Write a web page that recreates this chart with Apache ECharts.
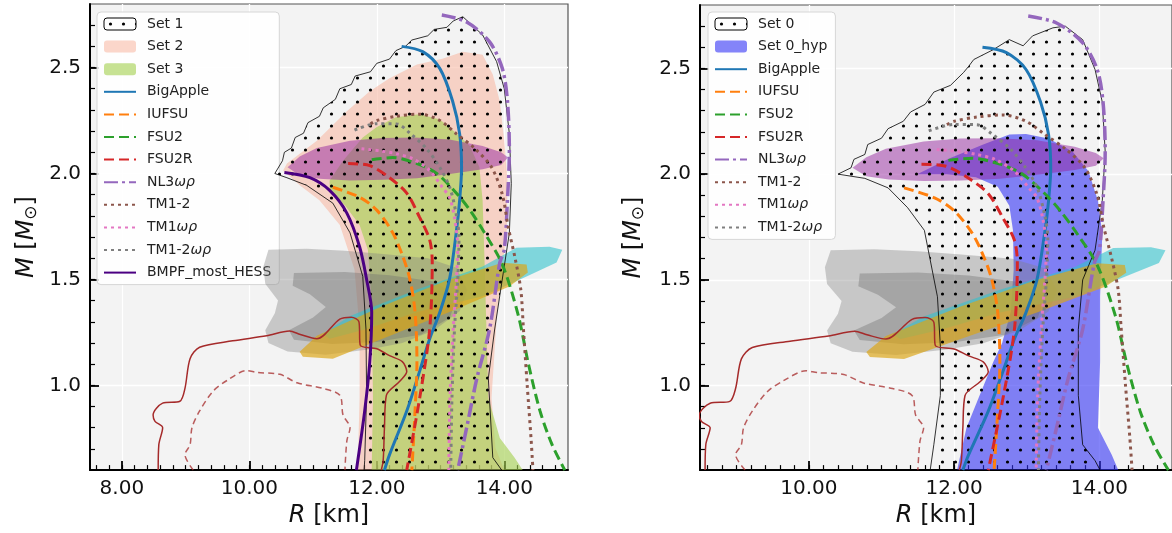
<!DOCTYPE html>
<html>
<head>
<meta charset="utf-8">
<script src="https://cdn.jsdelivr.net/npm/echarts@6/dist/echarts.min.js"></script>
<style>
html, body {margin: 0; padding: 0; background: #fff;}
#chart {width: 1172px; height: 533px;}
</style>
</head>
<body>
<div id="chart"></div>
<script>
// tick labels
var xTicksLeft = [8, 10, 12, 14];
var xTicksRight = [10, 12, 14];
var yTicks = [1.0, 1.5, 2.0, 2.5];

// model M-R curves [R km, M Msun]
var bigApple = [[12.39,2.60],[12.72,2.575],[12.99,2.495],[13.19,2.341],[13.30,2.187],[13.33,2.028],[13.30,1.874],[13.25,1.73],[13.14,1.5],[12.99,1.346],[12.83,1.22],[12.67,1.065],[12.47,0.879],[12.2,0.673],[12.12,0.6]];
var iufsu = [[11.31,1.935],[11.73,1.888],[12.0,1.827],[12.25,1.72],[12.41,1.607],[12.52,1.5],[12.6,1.346],[12.63,1.112],[12.6,0.879],[12.55,0.6]];
var fsu2 = [[11.92,2.065],[12.25,2.075],[12.63,2.047],[12.94,2.0],[13.25,1.907],[13.46,1.827],[13.69,1.72],[13.97,1.57],[14.22,1.33],[14.38,1.1],[14.56,0.88],[14.75,0.72],[14.95,0.6]];
var fsu2r = [[11.55,2.047],[11.89,2.037],[12.2,1.98],[12.47,1.907],[12.67,1.794],[12.83,1.687],[12.87,1.58],[12.83,1.266],[12.68,0.953],[12.47,0.6]];
var nl3wr = [[13.02,2.748],[13.41,2.715],[13.77,2.621],[13.97,2.495],[14.05,2.341],[14.08,2.107],[14.05,1.874],[14.0,1.64],[13.93,1.579],[13.77,1.266],[13.57,1.033],[13.41,0.8],[13.27,0.6]];
var tm12 = [[11.9,2.234],[12.0,2.25],[12.31,2.27],[12.67,2.28],[12.99,2.25],[13.25,2.187],[13.53,2.12],[13.8,2.03],[13.97,1.9],[14.06,1.75],[14.17,1.6],[14.26,1.45],[14.3,1.27],[14.36,1.0],[14.42,0.75],[14.45,0.6]];
var tm1wr = [[11.76,2.117],[12.05,2.107],[12.31,2.093],[12.56,2.07],[12.83,2.014],[13.03,1.934],[13.14,1.888],[13.22,1.79],[13.27,1.65],[13.25,1.5],[13.2,1.27],[13.15,0.95],[13.13,0.6]];
var tm12wr = [[11.65,2.205],[12.0,2.235],[12.31,2.234],[12.52,2.19],[12.78,2.117],[12.99,2.028],[13.15,1.93],[13.25,1.8],[13.29,1.7],[13.27,1.5],[13.22,1.27],[13.18,0.95],[13.16,0.6]];
var bmpf = [[10.55,2.005],[10.95,1.98],[11.26,1.92],[11.53,1.813],[11.73,1.654],[11.84,1.5],[11.92,1.346],[11.89,1.112],[11.81,0.879],[11.68,0.6]];

// HESS J1731 contours
var hessSolid = [[8.57,0.6],[8.58,0.72],[8.64,0.80],[8.52,0.83],[8.49,0.86],[8.64,0.916],[8.91,0.925],[8.99,0.986],[9.07,1.126],[9.22,1.18],[9.74,1.21],[10.27,1.234],[10.63,1.257],[10.8,1.24],[11.06,1.22],[11.42,1.313],[11.6,1.322],[11.72,1.30],[11.74,1.19],[12.0,1.173],[12.2,1.14],[12.4,1.112],[12.47,1.065],[12.36,1.019],[12.15,0.953],[12.12,0.80],[12.1,0.645],[12.07,0.6]];
var hessDashed = [[9.12,0.6],[8.99,0.673],[9.07,0.72],[9.1,0.8],[9.22,0.879],[9.43,0.972],[9.65,1.023],[9.96,1.07],[10.12,1.061],[10.48,1.052],[10.75,1.012],[11.15,0.986],[11.42,0.953],[11.47,0.86],[11.58,0.80],[11.53,0.738],[11.5,0.6]];

// observational regions
var greyOuter = [[10.3,1.64],[10.9,1.645],[11.5,1.635],[12.1,1.62],[12.8,1.6],[13.25,1.555],[13.42,1.45],[13.3,1.35],[12.9,1.26],[12.4,1.2],[11.9,1.17],[11.2,1.145],[10.6,1.16],[10.3,1.2],[10.25,1.26],[10.4,1.34],[10.45,1.40],[10.25,1.48],[10.22,1.56]];
var greyInner = [[10.7,1.53],[11.5,1.535],[12.2,1.52],[12.9,1.49],[13.25,1.42],[13.15,1.32],[12.7,1.24],[12.0,1.205],[11.3,1.195],[10.7,1.215],[10.62,1.26],[11.0,1.32],[11.2,1.37],[10.95,1.43],[10.68,1.47]];
var nicerCyan = [[11.15,1.243],[11.58,1.327],[12.63,1.453],[13.66,1.561],[14.19,1.65],[14.71,1.654],[14.91,1.64],[14.82,1.58],[14.35,1.514],[13.66,1.42],[12.63,1.346],[11.84,1.266],[11.26,1.22]];
var nicerGold = [[10.79,1.159],[11.06,1.234],[12.09,1.374],[13.14,1.5],[13.97,1.579],[14.35,1.57],[14.37,1.533],[14.08,1.467],[13.14,1.346],[12.09,1.22],[11.31,1.126],[10.84,1.135]];
var massEllipse = [[10.6,2.03],[10.79,2.08],[11.06,2.12],[11.58,2.154],[12.09,2.168],[12.6,2.17],[13.14,2.16],[13.66,2.13],[13.95,2.1],[14.06,2.075],[13.95,2.04],[13.66,2.02],[13.2,2.0],[12.63,1.978],[12.1,1.97],[11.58,1.967],[11.1,1.975],[10.79,1.99]];

// EOS sets
var set1 = [[10.40,2.0],[10.52,2.06],[10.55,2.10],[10.66,2.12],[10.72,2.17],[10.85,2.19],[10.92,2.24],[11.1,2.27],[11.16,2.31],[11.35,2.35],[11.42,2.40],[11.6,2.42],[11.66,2.46],[11.9,2.48],[12.0,2.52],[12.2,2.54],[12.3,2.58],[12.45,2.60],[12.55,2.63],[12.8,2.65],[12.9,2.68],[13.1,2.69],[13.2,2.72],[13.35,2.74],[13.66,2.654],[13.88,2.528],[14.0,2.40],[14.08,2.187],[14.11,1.953],[14.08,1.72],[13.85,1.266],[13.75,1.033],[13.82,0.659],[13.96,0.6],[11.80,0.6],[11.81,0.645],[11.84,0.953],[11.83,1.266],[11.78,1.514],[11.58,1.72],[11.31,1.86],[10.90,1.944],[10.59,1.98]];
var set2 = [[10.53,2.014],[10.59,2.047],[11.06,2.154],[11.53,2.294],[11.89,2.388],[12.2,2.449],[12.63,2.514],[13.03,2.542],[13.35,2.575],[13.66,2.561],[13.82,2.467],[13.93,2.341],[14.0,2.154],[14.05,1.967],[14.04,1.734],[13.88,1.313],[13.8,0.94],[13.86,0.706],[14.0,0.6],[11.70,0.6],[11.73,0.94],[11.73,1.266],[11.65,1.547],[11.42,1.757],[11.1,1.874],[10.79,1.944]];
var set3 = [[11.26,1.967],[11.47,2.06],[11.78,2.17],[12.0,2.22],[12.3,2.265],[12.67,2.28],[12.99,2.255],[13.25,2.19],[13.46,2.13],[13.61,2.03],[13.66,1.874],[13.69,1.593],[13.72,1.266],[13.75,0.94],[13.93,0.752],[14.16,0.659],[14.29,0.6],[11.92,0.6],[11.94,0.94],[11.92,1.407],[11.86,1.64],[11.73,1.757],[11.5,1.85],[11.26,1.92]];
var set0 = [[10.40,2.0],[10.58,2.03],[10.62,2.07],[10.77,2.093],[10.81,2.14],[11.0,2.17],[11.09,2.215],[11.3,2.25],[11.40,2.294],[11.6,2.33],[11.72,2.388],[11.95,2.42],[12.13,2.481],[12.2,2.51],[12.27,2.542],[12.54,2.589],[12.76,2.636],[12.95,2.607],[13.08,2.654],[13.36,2.692],[13.53,2.70],[13.77,2.636],[13.94,2.495],[14.04,2.341],[14.08,2.107],[14.04,1.874],[13.94,1.64],[13.77,1.5],[13.71,1.266],[13.71,0.953],[13.77,0.72],[13.94,0.645],[14.01,0.6],[11.67,0.6],[11.72,0.72],[11.81,0.953],[11.81,1.187],[11.77,1.42],[11.59,1.734],[11.36,1.841],[11.09,1.935],[10.77,1.98]];
var set0hyp = [[11.49,2.0],[11.94,2.075],[12.4,2.14],[12.76,2.187],[12.99,2.19],[13.3,2.168],[13.63,2.107],[13.85,2.014],[13.98,1.874],[14.04,1.72],[14.01,1.42],[14.01,1.112],[13.98,0.8],[14.17,0.673],[14.26,0.6],[12.04,0.6],[12.17,0.8],[12.35,0.953],[12.54,1.112],[12.66,1.2],[12.78,1.35],[12.82,1.55],[12.81,1.734],[12.76,1.85],[12.6,1.94],[12.3,1.985],[11.9,2.0]];

var sFont = 'DejaVu Sans';

function makeDots() {
	var c = document.createElement('canvas');
	c.width = 13; c.height = 12;
	var ctx = c.getContext('2d');
	ctx.fillStyle = '#000';
	ctx.beginPath();
	ctx.arc(6.5, 6, 1.6, 0, Math.PI * 2);
	ctx.fill();
	return {image: c, repeat: 'repeat'};
}
var oDots = makeDots();

function steps(from, to, step) {
	var a = [];
	for (var v = from; v <= to + 1e-9; v += step) {
		a.push(Math.round(v * 100) / 100);
	}
	return a;
}

function polySeries(name, pts, gi, style, z) {
	return {
		type: 'custom',
		name: name,
		xAxisIndex: gi * 2,
		yAxisIndex: gi * 2,
		clip: true,
		silent: true,
		z: z,
		itemStyle: {color: style.fill, borderColor: style.stroke || 'transparent', borderWidth: style.lineWidth || 0},
		data: pts,
		renderItem: function (params, api) {
			if (params.dataIndex !== 0) {return;}
			var aPts = pts.map(function (d) { return api.coord(d); });
			return {type: 'polygon', shape: {points: aPts}, style: style};
		}
	};
}

function lineSeries(name, pts, gi, color, width, type, z) {
	return {
		type: 'line',
		name: name,
		xAxisIndex: gi * 2,
		yAxisIndex: gi * 2,
		data: pts,
		smooth: 0.3,
		symbol: 'none',
		showSymbol: false,
		silent: true,
		z: z,
		lineStyle: {color: color, width: width, type: type, cap: 'butt'},
		itemStyle: {color: color}
	};
}

function curves(gi) {
	return [
		lineSeries('HESS solid', hessSolid, gi, '#a52a2a', 1.5, 'solid', 20),
		lineSeries('HESS dashed', hessDashed, gi, 'rgba(165,42,42,0.75)', 1.5, [6, 4], 20),
		lineSeries('BigApple', bigApple, gi, '#1f77b4', 3, 'solid', 30),
		lineSeries('IUFSU', iufsu, gi, '#ff7f0e', 3, [10, 5], 30),
		lineSeries('FSU2', fsu2, gi, '#2ca02c', 3, [10, 5], 30),
		lineSeries('FSU2R', fsu2r, gi, '#d62728', 3, [10, 5], 30),
		lineSeries('NL3ωρ', nl3wr, gi, '#9467bd', 3.5, [14, 4, 3, 4], 30),
		lineSeries('TM1-2', tm12, gi, '#8c564b', 3, [3, 4], 30),
		lineSeries('TM1ωρ', tm1wr, gi, '#e377c2', 3, [3, 4], 30),
		lineSeries('TM1-2ωρ', tm12wr, gi, '#7f7f7f', 3, [3, 4], 30)
	];
}

function regions(gi) {
	return [
		polySeries('GW outer', greyOuter, gi, {fill: 'rgba(128,128,128,0.38)'}, 5),
		polySeries('GW inner', greyInner, gi, {fill: 'rgba(110,110,110,0.38)'}, 5),
		polySeries('NICER cyan', nicerCyan, gi, {fill: 'rgba(50,195,205,0.6)'}, 6),
		polySeries('NICER gold', nicerGold, gi, {fill: 'rgba(220,165,20,0.68)'}, 6),
		polySeries('Mmax', massEllipse, gi, {fill: 'rgba(150,40,160,0.5)'}, 7)
	];
}

function xAxes(gi, min, max, majors) {
	return [{
		type: 'value', gridIndex: gi, min: min, max: max, position: 'bottom',
		name: '{i|R} [km]', nameLocation: 'middle', nameGap: 27,
		nameTextStyle: {fontSize: 24, fontFamily: sFont, color: '#111', rich: {i: {fontStyle: 'italic', fontSize: 24, fontFamily: sFont, color: '#111'}}},
		axisLine: {show: true, onZero: false, lineStyle: {color: '#000', width: 2}},
		axisTick: {show: true, inside: true, length: 9, customValues: majors, lineStyle: {color: '#000', width: 1.8}},
		axisLabel: {customValues: majors, margin: 9, fontSize: 20, fontFamily: sFont, color: '#111',
			formatter: function (v) { return v.toFixed(2); }},
		splitLine: {show: true, lineStyle: {color: '#fff', width: 1.3}}
	}, {
		type: 'value', gridIndex: gi, min: min, max: max, position: 'bottom',
		axisLine: {show: false},
		axisTick: {show: true, inside: true, length: 5, customValues: steps(Math.ceil(min * 5) / 5, max - 0.01, 0.2), lineStyle: {color: '#000', width: 1.2}},
		axisLabel: {show: false},
		splitLine: {show: false}
	}];
}

function yAxes(gi, gap) {
	return [{
		type: 'value', gridIndex: gi, min: 0.6, max: 2.8, position: 'left',
		name: '{i|M} [{i|M}{s|⊙}]', nameLocation: 'middle', nameGap: gap,
		nameTextStyle: {fontSize: 24, fontFamily: sFont, color: '#111', rich: {
			i: {fontStyle: 'italic', fontSize: 24, fontFamily: sFont, color: '#111'},
			s: {fontSize: 17, fontFamily: sFont, color: '#111', padding: [10, 0, 0, 0]}
		}},
		axisLine: {show: true, onZero: false, lineStyle: {color: '#000', width: 2}},
		axisTick: {show: true, inside: true, length: 9, customValues: yTicks, lineStyle: {color: '#000', width: 1.8}},
		axisLabel: {customValues: yTicks, margin: 9, fontSize: 20, fontFamily: sFont, color: '#111',
			formatter: function (v) { return v.toFixed(1); }},
		splitLine: {show: true, lineStyle: {color: '#fff', width: 1.3}}
	}, {
		type: 'value', gridIndex: gi, min: 0.6, max: 2.8, position: 'left',
		axisLine: {show: false},
		axisTick: {show: true, inside: true, length: 5, customValues: steps(0.7, 2.7, 0.1), lineStyle: {color: '#000', width: 1.2}},
		axisLabel: {show: false},
		splitLine: {show: false}
	}];
}

function legendOpt(left, names) {
	return {
		orient: 'vertical', left: left, top: 12,
		padding: [5, 8, 5, 6], itemGap: 8.6, itemWidth: 32, itemHeight: 12,
		backgroundColor: 'rgba(255,255,255,0.85)', borderColor: '#d6d6d6', borderWidth: 1, borderRadius: 4,
		selectedMode: false,
		textStyle: {fontSize: 14, lineHeight: 14, fontFamily: sFont, color: '#222', padding: [0, 0, 0, 6],
			rich: {i: {fontStyle: 'italic', fontSize: 14, lineHeight: 14, fontFamily: sFont, color: '#222'}}},
		formatter: function (name) { return name.replace('ωρ', '{i|ωρ}'); },
		data: names.map(function (n) {
			if (n === 'Set 1' || n === 'Set 0') {
				return {name: n, itemStyle: {color: oDots, borderColor: '#000', borderWidth: 1}};
			}
			if (n.indexOf('Set') === 0) {
				return {name: n};
			}
			// line entries: hide the marker that line series add to their icon
			return {name: n, itemStyle: {opacity: 0, color: 'transparent', borderWidth: 0}};
		})
	};
}

var aLeftNames = ['Set 1', 'Set 2', 'Set 3', 'BigApple', 'IUFSU', 'FSU2', 'FSU2R', 'NL3ωρ', 'TM1-2', 'TM1ωρ', 'TM1-2ωρ', 'BMPF_most_HESS'];
var aRightNames = ['Set 0', 'Set 0_hyp', 'BigApple', 'IUFSU', 'FSU2', 'FSU2R', 'NL3ωρ', 'TM1-2', 'TM1ωρ', 'TM1-2ωρ'];

var aSeries = [].concat(
	[polySeries('Set 2', set2, 0, {fill: 'rgba(248,180,158,0.55)'}, 2),
	 polySeries('Set 3', set3, 0, {fill: 'rgba(165,208,80,0.62)'}, 3)],
	regions(0),
	[polySeries('Set 1', set1, 0, {fill: oDots, stroke: '#000', lineWidth: 0.8}, 10)],
	curves(0),
	[lineSeries('BMPF_most_HESS', bmpf, 0, '#4b0082', 3, 'solid', 31)],
	[polySeries('Set 0_hyp', set0hyp, 1, {fill: 'rgba(50,50,245,0.6)'}, 3)],
	regions(1),
	[polySeries('Set 0', set0, 1, {fill: oDots, stroke: '#000', lineWidth: 0.8}, 10)],
	curves(1)
);

var oChart = echarts.init(document.getElementById('chart'));
oChart.setOption({
	animation: false,
	backgroundColor: '#fff',
	grid: [
		{left: 90, top: 4, width: 478, height: 467, show: true, backgroundColor: '#f3f3f3', borderColor: '#555', borderWidth: 1.2},
		{left: 700, top: 5, width: 478, height: 466, show: true, backgroundColor: '#f3f3f3', borderColor: '#555', borderWidth: 1.2}
	],
	xAxis: [].concat(xAxes(0, 7.5, 15, xTicksLeft), xAxes(1, 8.5, 15, xTicksRight)),
	yAxis: [].concat(yAxes(0, 50), yAxes(1, 53)),
	legend: [legendOpt(97, aLeftNames), legendOpt(708, aRightNames)],
	series: aSeries
});
</script>
</body>
</html>
